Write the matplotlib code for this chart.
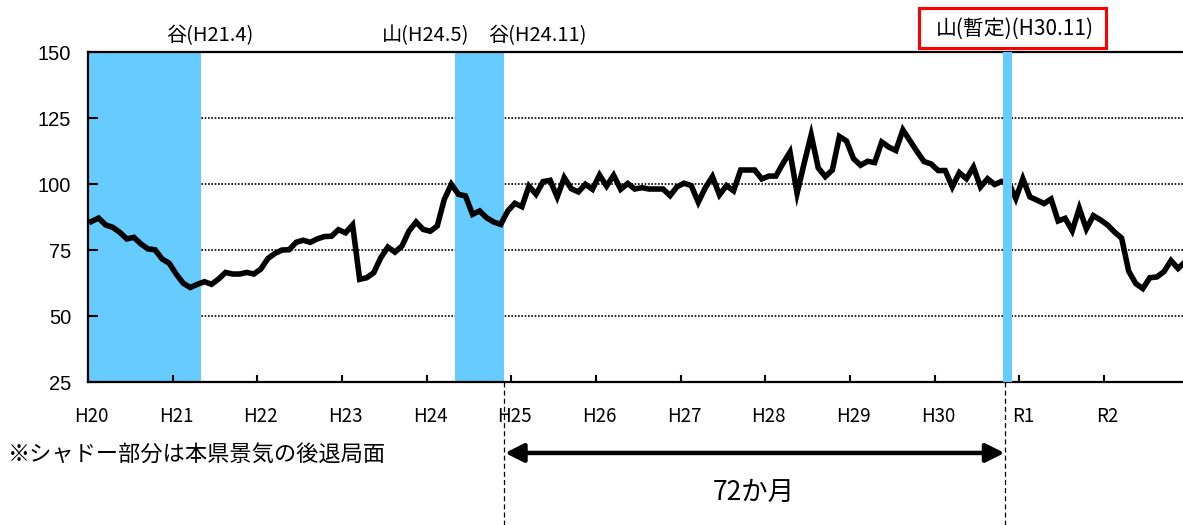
import numpy as np
import matplotlib
matplotlib.use('Agg')
import matplotlib.pyplot as plt
from matplotlib.patches import Rectangle

plt.rcParams['font.family'] = ['Noto Sans CJK JP', 'DejaVu Sans']

# monthly index, Jan..Dec of each year
h20 = [85.8, 87.1, 84.5, 83.6, 81.7, 79.2, 79.8, 77.3, 75.4, 75.1, 71.6, 70.0]
h21 = [65.9, 62.4, 60.8, 62.0, 63.0, 62.0, 64.0, 66.5, 65.9, 65.9, 66.5, 65.9]
h22 = [67.8, 71.8, 73.7, 75.0, 75.1, 77.9, 78.7, 77.9, 79.2, 80.1, 80.2, 82.7]
h23 = [81.5, 84.5, 63.9, 64.5, 66.4, 72.1, 76.1, 74.2, 76.5, 82.2, 85.6, 82.8]
h24 = [82.1, 84.1, 94.2, 99.9, 96.1, 95.5, 88.5, 89.8, 87.2, 85.6, 84.7, 89.8]
h25 = [92.7, 91.4, 99.2, 96.1, 100.9, 101.4, 95.1, 102.4, 98.2, 97.0, 99.9, 98.0]
h26 = [103.4, 99.2, 103.3, 98.0, 100.2, 98.1, 98.6, 98.1, 98.1, 98.1, 95.6, 99.0]
h27 = [100.3, 99.4, 93.1, 98.6, 102.8, 95.9, 99.4, 97.4, 105.3, 105.3, 105.3, 101.9]
h28 = [103.0, 103.0, 107.8, 112.1, 96.5, 107.8, 118.6, 106.1, 102.8, 105.3, 118.0, 116.3]
h29 = [109.6, 107.1, 108.6, 108.1, 115.9, 114.0, 112.7, 120.5, 116.4, 112.3, 108.5, 107.6]
h30 = [105.1, 105.1, 98.9, 104.3, 102.0, 106.4, 98.9, 102.0, 99.8, 101.0, 100.5, 94.5]
r1 = [102.0, 95.1, 93.9, 92.6, 94.3, 86.0, 87.0, 82.3, 90.8, 83.0, 88.0, 86.4]
r2 = [84.5, 81.8, 79.5, 67.0, 62.3, 60.4, 64.5, 64.8, 66.8, 71.0, 68.0, 70.5]

years = ['H20', 'H21', 'H22', 'H23', 'H24', 'H25', 'H26', 'H27', 'H28', 'H29', 'H30', 'R1', 'R2']
vals = h20 + h21 + h22 + h23 + h24 + h25 + h26 + h27 + h28 + h29 + h30 + r1 + r2
x = np.arange(len(vals))

# recession periods (month index, Jan H20 = 0)
shade = [(-0.5, 15.5), (51.5, 58.5)]
shade_last = (129.2, 130.45)

fig = plt.figure(figsize=(11.83, 5.25), dpi=100)
ax = fig.add_axes([0.07439, 0.27238, 0.92561, 0.62857])

blue = '#66CCFF'
for a, b in shade:
    ax.axvspan(a, b, color=blue, lw=0, zorder=1)
ax.axvspan(shade_last[0], shade_last[1], color=blue, lw=0, zorder=4)

ax.plot(x, vals, color='black', lw=4.0, zorder=3, solid_joinstyle='miter')

ax.set_xlim(-0.5, 154.7)
ax.set_ylim(25, 150)
ax.set_yticks([25, 50, 75, 100, 125, 150])
for g in [50, 75, 100, 125]:
    ax.axhline(g, color='black', lw=1.2, ls=(0, (1, 1)), zorder=0.5)

ax.set_xticks(np.arange(0, 156, 12) - 0.5)
ax.set_xticklabels([])
ax.set_xticks(np.arange(0, 156, 12), minor=True)
ax.set_xticklabels(years, minor=True, fontsize=13.5)
ax.tick_params(axis='x', which='major', direction='in', length=5, width=1.5)
ax.tick_params(axis='x', which='minor', length=0, pad=17)
ax.tick_params(axis='y', direction='in', length=7, width=1.5, pad=12)
for lb in ax.get_yticklabels():
    lb.set_fontfamily('Liberation Sans')
    lb.set_fontsize(14.5)

for s in ['left', 'bottom', 'top']:
    ax.spines[s].set_linewidth(1.6)
ax.spines['right'].set_visible(False)

# dashed guide lines below the axis and the span arrow
trans = ax.get_xaxis_transform()
for xv in [58.5, 129.5]:
    ax.plot([xv, xv], [0, -0.45], transform=trans, color='black', lw=0.9,
            ls=(0, (4, 2.5)), clip_on=False)
ax.annotate('', xy=(58.6, -0.215), xytext=(129.4, -0.215), xycoords=trans,
            textcoords=trans,
            arrowprops=dict(arrowstyle='<|-|>', color='black', lw=3.2,
                            mutation_scale=28, shrinkA=0, shrinkB=0))
ax.text(93.9, -0.333, '72か月', transform=trans, ha='center', va='center',
        fontsize=19)

fig.text(0.0068, 0.135, '※シャドー部分は本県景気の後退局面', fontsize=16,
         ha='left', va='center')

fig.text(0.1771, 0.933, '谷(H21.4)', fontsize=14.5, ha='center', va='center')
fig.text(0.3601, 0.933, '山(H24.5)', fontsize=14.5, ha='center', va='center')
fig.text(0.4539, 0.933, '谷(H24.11)', fontsize=14.5, ha='center', va='center')
fig.patches.append(Rectangle((0.7768, 0.9086), 0.1581, 0.0762, transform=fig.transFigure,
                             facecolor='white', edgecolor='#FF0000', lw=2.2))
fig.text(0.858, 0.9448, '山(暫定)(H30.11)', fontsize=15, ha='center', va='center')

fig.savefig('out.png', dpi=100)
